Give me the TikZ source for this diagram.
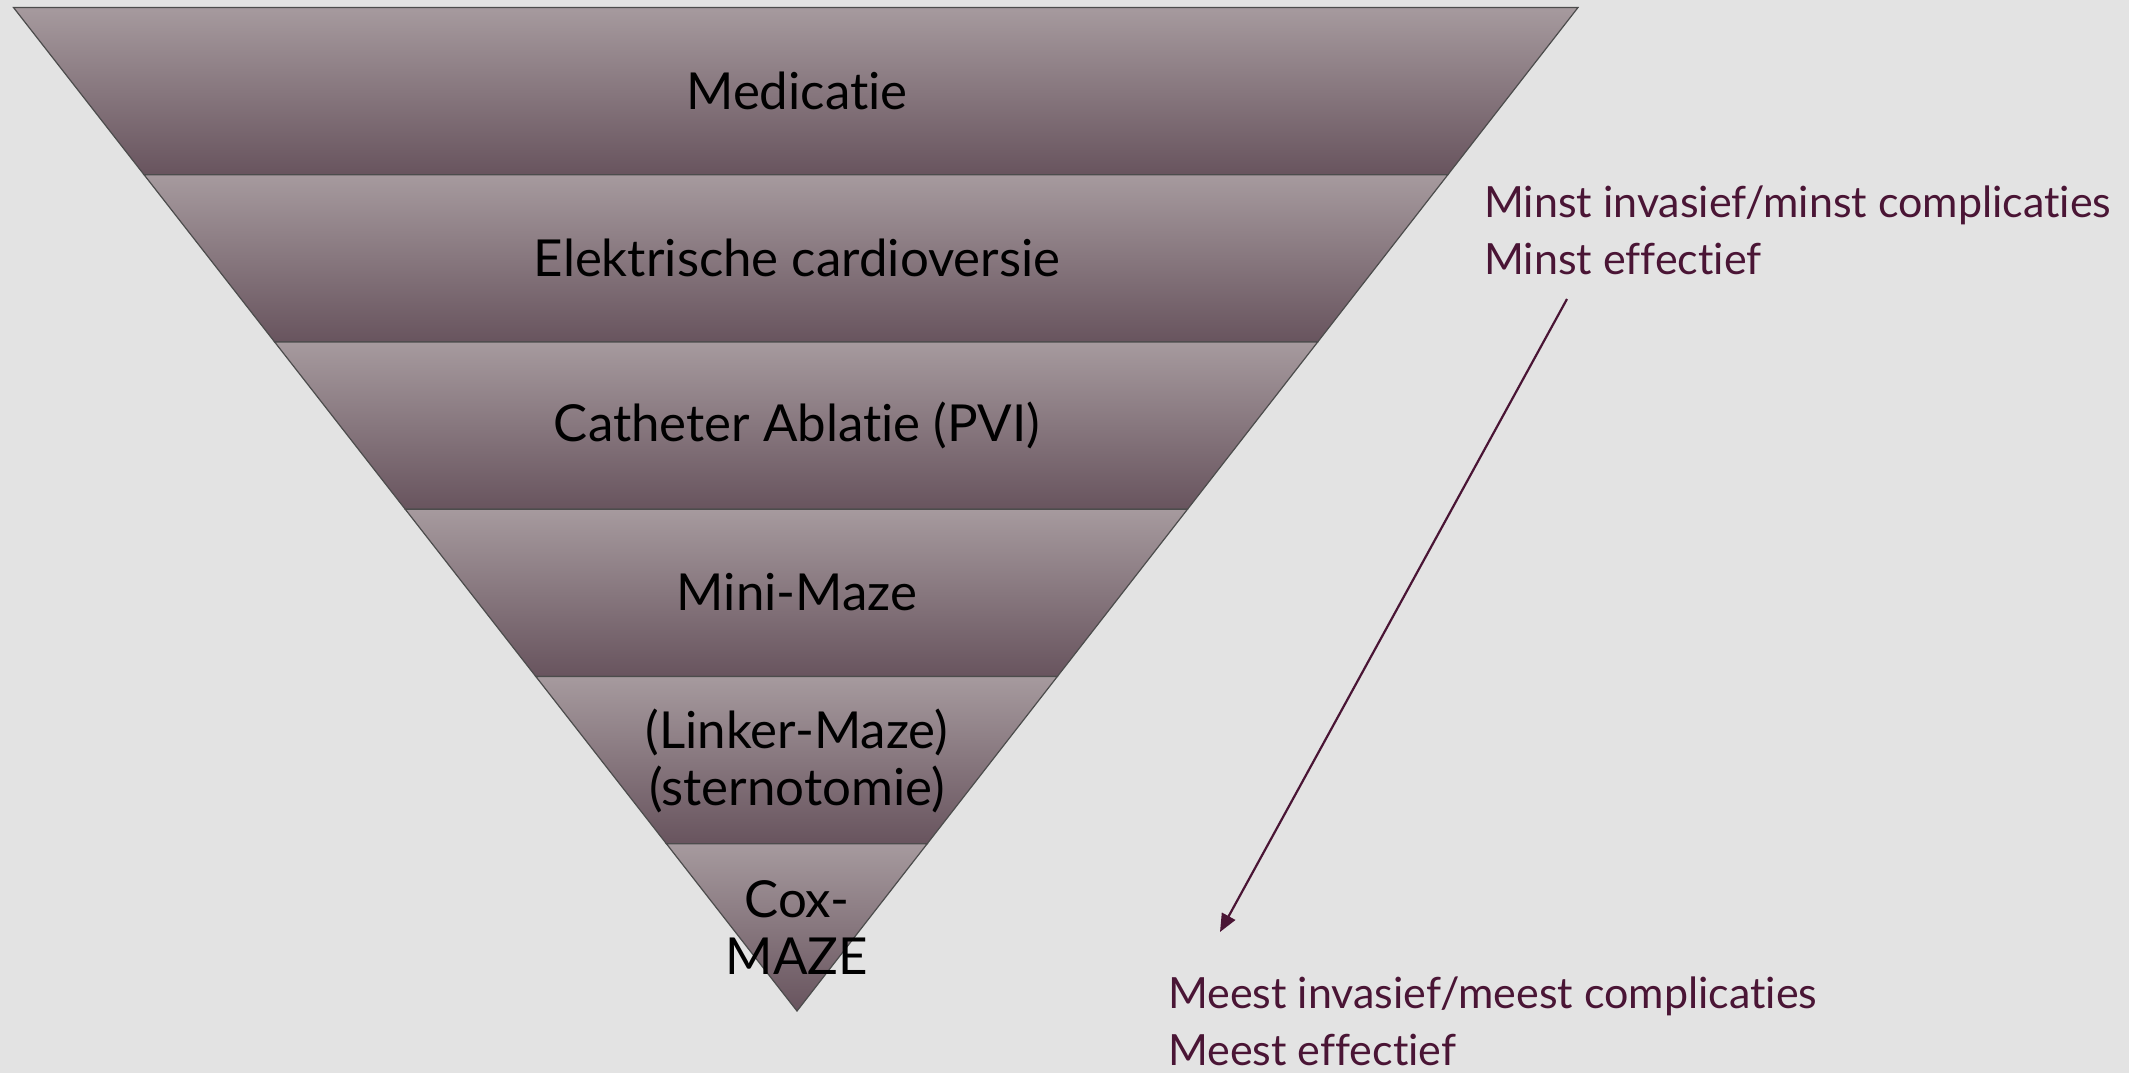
\documentclass[tikz,border=0pt]{standalone}
\usepackage{fontspec}
\setmainfont[Ligatures=NoCommon]{Lato}
\usetikzlibrary{arrows.meta}
\definecolor{bg}{RGB}{227,227,227}
\definecolor{bandtop}{RGB}{166,154,158}
\definecolor{bandbot}{RGB}{104,84,94}
\definecolor{plum}{RGB}{74,21,53}
\tikzset{
  band/.style={top color=bandtop,bottom color=bandbot,draw=black!70,line width=1.2pt},
  lbl/.style={font=\fontsize{51}{57}\selectfont,text=black,align=center,inner sep=0pt},
  side/.style={font=\fontsize{43}{57}\selectfont,text=plum,align=left,anchor=north west,inner sep=0pt},
}
\begin{document}
\begin{tikzpicture}[x=1pt,y=-1pt]
\fill[bg] (0,0) rectangle (2129,1073);
\useasboundingbox (0,0) rectangle (2129,1073);
\path[band] (13.5,7.5) -- (1578,7.5) -- (1447.83,174.75) -- (144.08,174.75) -- cycle;
\path[band] (144.08,174.75) -- (1447.83,174.75) -- (1317.67,342) -- (274.67,342) -- cycle;
\path[band] (274.67,342) -- (1317.67,342) -- (1187.5,509.25) -- (405.25,509.25) -- cycle;
\path[band] (405.25,509.25) -- (1187.5,509.25) -- (1057.33,676.5) -- (535.83,676.5) -- cycle;
\path[band] (535.83,676.5) -- (1057.33,676.5) -- (927.17,843.75) -- (666.42,843.75) -- cycle;
\path[band] (666.42,843.75) -- (927.17,843.75) -- (797,1011) -- cycle;
\node[lbl] (medicatie) at (797,91) {Medicatie};
\node[lbl] (ecv) at (797,258) {Elektrische cardioversie};
\node[lbl] (pvi) at (797,425) {Catheter Ablatie (PVI)};
\node[lbl] (mini) at (797,592) {Mini-Maze};
\node[lbl] (linker) at (797,761) {(Linker-Maze)\\(sternotomie)};
\node[lbl] (cox) at (797,928) {Cox-\\MAZE};
\node[side] (minst) at (1484,186) {Minst invasief/minst complicaties\\Minst effectief};
\node[side] (meest) at (1168,977) {Meest invasief/meest complicaties\\Meest effectief};
\coordinate (arrA) at (1567,299);
\coordinate (arrB) at (1220,932);
\draw[plum,line width=2.2pt,-{Triangle[length=18pt,width=15pt]}] (arrA) -- (arrB);
\end{tikzpicture}
\end{document}
